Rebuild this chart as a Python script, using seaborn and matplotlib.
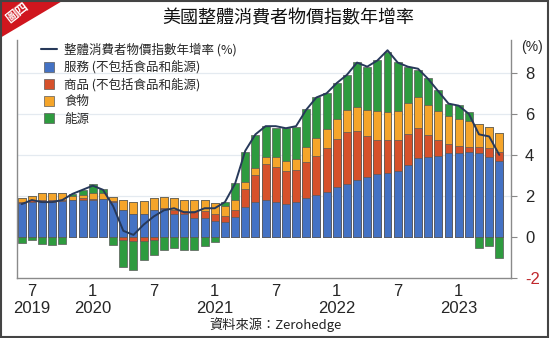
import numpy as np
import pandas as pd
import matplotlib
matplotlib.use("Agg")
import matplotlib.pyplot as plt
from matplotlib.lines import Line2D
from matplotlib.patches import Polygon, Rectangle
import seaborn as sns

# ---------------- data ----------------
months = [d.strftime("%Y-%m") for d in pd.date_range("2019-06-01", "2023-05-01", freq="MS")]

services = [1.66, 1.71, 1.70, 1.72, 1.74, 1.78, 1.82, 1.82, 1.85, 1.70, 1.30, 1.14,
            1.14, 1.30, 1.35, 1.14, 1.11, 0.94, 0.94, 0.78, 0.73, 0.95, 1.46, 1.71,
            1.82, 1.71, 1.63, 1.71, 1.92, 2.03, 2.20, 2.44, 2.60, 2.76, 2.93, 3.06,
            3.10, 3.22, 3.52, 3.87, 3.90, 3.93, 4.07, 4.11, 4.15, 4.07, 3.90, 3.71]
goods = [0.06, 0.08, 0.08, 0.06, 0.04, 0.02, 0.06, 0.04, 0.02, 0.03, -0.16, -0.20,
         -0.20, -0.16, 0.05, 0.19, 0.16, 0.33, 0.33, 0.33, 0.28, 0.38, 0.90, 1.33,
         1.72, 1.71, 1.57, 1.54, 1.72, 1.94, 2.16, 2.34, 2.50, 2.41, 1.98, 1.69,
         1.62, 1.50, 1.49, 1.42, 1.06, 0.82, 0.45, 0.31, 0.24, 0.32, 0.46, 0.44]
food = [0.20, 0.20, 0.34, 0.34, 0.34, 0.22, 0.17, 0.26, 0.25, 0.22, 0.49, 0.55,
        0.62, 0.62, 0.55, 0.57, 0.55, 0.55, 0.52, 0.55, 0.48, 0.45, 0.32, 0.30,
        0.36, 0.48, 0.51, 0.57, 0.75, 0.83, 0.88, 0.99, 1.08, 1.17, 1.27, 1.40,
        1.38, 1.43, 1.53, 1.51, 1.46, 1.40, 1.36, 1.35, 1.27, 1.14, 1.01, 0.92]
energy = [-0.29, -0.17, -0.36, -0.40, -0.33, 0.05, 0.25, 0.44, 0.24, -0.40, -1.30, -1.40,
          -0.90, -0.73, -0.62, -0.52, -0.62, -0.62, -0.45, -0.24, 0.20, 0.84, 1.47, 1.64,
          1.50, 1.43, 1.58, 1.55, 1.87, 2.00, 1.79, 1.71, 1.71, 2.20, 2.11, 2.47,
          2.92, 2.39, 1.75, 1.36, 1.35, 1.01, 0.59, 0.65, 0.44, -0.54, -0.44, -1.02]
cpi = [1.6, 1.8, 1.7, 1.7, 1.8, 2.1, 2.3, 2.5, 2.3, 1.5, 0.3, 0.1,
       0.6, 1.0, 1.3, 1.4, 1.2, 1.2, 1.4, 1.4, 1.7, 2.6, 4.2, 5.0,
       5.4, 5.4, 5.3, 5.4, 6.2, 6.8, 7.0, 7.5, 7.9, 8.5, 8.3, 8.6,
       9.1, 8.5, 8.3, 8.2, 7.7, 7.1, 6.5, 6.4, 6.0, 5.0, 4.9, 4.0]

tick_months = ["2019-07", "2020-01", "2020-07", "2021-01", "2021-07", "2022-01", "2022-07", "2023-01"]
tick_labels = ["7\n2019", "1\n2020", "7", "1\n2021", "7", "1\n2022", "7", "1\n2023"]

series_names = ["服務 (不包括食品和能源)", "商品 (不包括食品和能源)", "食物", "能源"]
line_name = "整體消費者物價指數年增率 (%)"
title = "美國整體消費者物價指數年增率"
source = "資料來源：Zerohedge"

colors = {"services": "#4472C4", "goods": "#D6512B", "food": "#F5A52A", "energy": "#2E9B3F"}
line_color = "#27395A"

# ---------------- style ----------------
sns.set_theme(style="white")
plt.rcParams["font.family"] = ["Liberation Sans", "Noto Sans CJK TC", "DejaVu Sans"]

W, H = 550, 338
fig = plt.figure(figsize=(W / 100, H / 100), dpi=100)
ax_l, ax_r, ax_t, ax_b = 17, 511, 40, 278
ax = fig.add_axes([ax_l / W, 1 - ax_b / H, (ax_r - ax_l) / W, (ax_b - ax_t) / H])

df = pd.DataFrame({"month": months, "services": services, "goods": goods,
                   "food": food, "energy": energy, "cpi": cpi})

pos = lambda s: np.clip(np.asarray(s, float), 0, None)
neg = lambda s: np.clip(np.asarray(s, float), None, 0)

c1 = pos(df.services)
c2 = c1 + pos(df.goods)
c3 = c2 + pos(df.food)
c4 = c3 + pos(df.energy)
n1 = neg(df.goods)
n2 = n1 + neg(df.energy)

def nz(a):
    a = np.asarray(a, float).copy()
    a[np.abs(a) < 1e-9] = np.nan
    return a

layers = [(c4, colors["energy"]), (c3, colors["food"]), (c2, colors["goods"]), (c1, colors["services"]),
          (nz(n2), colors["energy"]), (nz(n1), colors["goods"])]
for vals, col in layers:
    d = pd.DataFrame({"month": months, "v": vals})
    sns.barplot(data=d, x="month", y="v", order=months, color=col, saturation=1,
                width=0.78, edgecolor="#5a5a5a", linewidth=0.5, errorbar=None, ax=ax, zorder=2)

sns.lineplot(x=np.arange(len(months)), y=df.cpi, color=line_color, lw=1.4, ax=ax, zorder=4)

ax.set_xlim(-0.46, len(months) - 1 + 1.15)
ax.set_ylim(-2, 9.6)
ax.set_xlabel("")
ax.set_ylabel("")

# axes styling
ax.yaxis.tick_right()
ax.set_yticks([-2, 0, 2, 4, 6, 8])
ax.set_yticklabels(["-2", "0", "2", "4", "6", "8"], fontsize=12)
ax.get_yticklabels()[0].set_color("#C0282D")
ax.tick_params(axis="y", which="both", right=True, left=False, length=4, width=0.8,
               color="#888888", pad=6)
ax.set_xticks([months.index(m) for m in tick_months])
ax.set_xticklabels(tick_labels, fontsize=12, linespacing=1.2)
ax.tick_params(axis="x", length=0, pad=4)
for s in ["top"]:
    ax.spines[s].set_visible(False)
for s in ["left", "right", "bottom"]:
    ax.spines[s].set_color("#8a8a8a")
    ax.spines[s].set_linewidth(1.0)
for y in [2, 4, 6, 8]:
    ax.axhline(y, color="#e4eaf0", lw=0.9, zorder=0)
ax.set_axisbelow(True)

fig.text(532 / W, 1 - 47 / H, "(%)", fontsize=10, ha="center", va="center")

# legend
handles = [Line2D([], [], color=line_color, lw=1.5)]
for c in [colors["services"], colors["goods"], colors["food"], colors["energy"]]:
    handles.append(Line2D([], [], marker="s", linestyle="none", markersize=7,
                          markerfacecolor=c, markeredgecolor="#5a5a5a", markeredgewidth=0.5))
leg = ax.legend(handles, [line_name] + series_names, loc="upper left",
                bbox_to_anchor=(0.03, 1.025), frameon=False, fontsize=9,
                handlelength=1.3, handletextpad=0.6, labelspacing=0.32, borderpad=0.2)
for t in leg.get_texts():
    t.set_fontfamily(["Noto Sans CJK TC", "DejaVu Sans"])

# title & source
fig.text(288 / W, 1 - 18 / H, title, fontsize=13, ha="center", va="center",
         family=["Noto Sans CJK TC", "DejaVu Sans"], color="#111111")
fig.text(275 / W, 1 - 325 / H, source, fontsize=9.5, ha="center", va="center",
         family=["Noto Sans CJK TC", "DejaVu Sans"], color="#222222")

# red corner tag
tri = Polygon([[0, 1], [64 / W, 1], [0, 1 - 38 / H]], closed=True, transform=fig.transFigure,
              facecolor="#D0161E", edgecolor="none", zorder=5)
fig.patches.append(tri)
fig.text(17 / W, 1 - 13 / H, "圖四", fontsize=9, color="white", rotation=38,
         ha="center", va="center", family=["Noto Sans CJK TC", "DejaVu Sans"], zorder=6,
         fontweight="bold")

# outer frame
fig.patches.append(Rectangle((0.002, 0.003), 0.995, 0.994, transform=fig.transFigure,
                             fill=False, edgecolor="#444444", lw=1.5, zorder=7))

fig.savefig("out.png", dpi=100)
